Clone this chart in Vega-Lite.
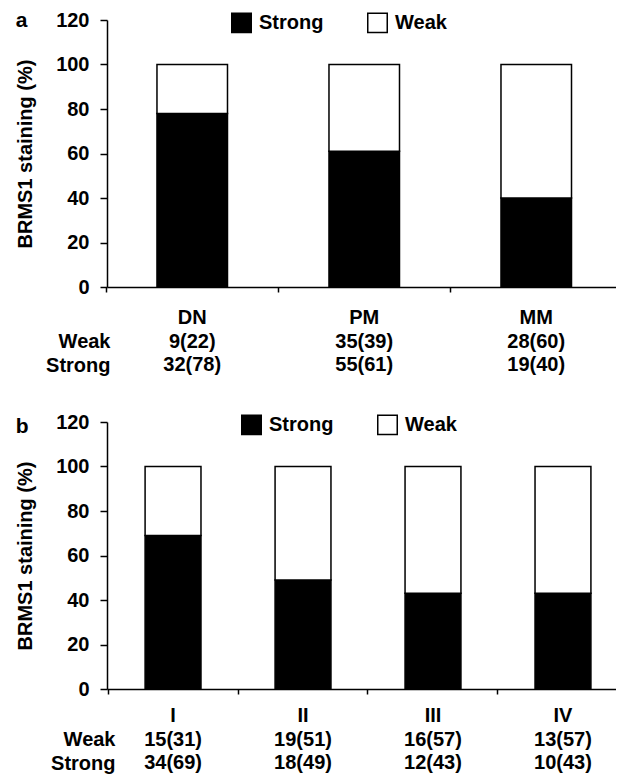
{
  "$schema": "https://vega.github.io/schema/vega-lite/v6.json",
  "padding": {"left": 15, "top": 10, "right": 0, "bottom": 0},
  "autosize": {"type": "pad"},
  "background": "white",
  "config": {
    "font": "Liberation Sans",
    "view": {"stroke": null},
    "axis": {
      "labelFont": "Liberation Sans", "labelFontWeight": "bold", "labelFontSize": 20, "labelColor": "black",
      "titleFont": "Liberation Sans", "titleFontSize": 20, "titleFontWeight": "bold", "titleColor": "black",
      "domainColor": "black", "tickColor": "black", "grid": false, "domainWidth": 1.5, "tickWidth": 1.5
    },
    "legend": {"labelFont": "Liberation Sans", "labelFontSize": 20, "labelFontWeight": "bold", "labelColor": "black"},
    "title": {"font": "Liberation Sans", "fontSize": 21, "fontWeight": "bold", "color": "black"}
  },
  "datasets": {
    "barsA": [
      {"cat": "DN", "type": "Strong", "pct": 78}, {"cat": "DN", "type": "Weak", "pct": 22},
      {"cat": "PM", "type": "Strong", "pct": 61}, {"cat": "PM", "type": "Weak", "pct": 39},
      {"cat": "MM", "type": "Strong", "pct": 40}, {"cat": "MM", "type": "Weak", "pct": 60}
    ],
    "tabA": [
      {"cat": "DN", "row": "cat", "txt": "DN"}, {"cat": "DN", "row": "Weak", "txt": "9(22)"}, {"cat": "DN", "row": "Strong", "txt": "32(78)"},
      {"cat": "PM", "row": "cat", "txt": "PM"}, {"cat": "PM", "row": "Weak", "txt": "35(39)"}, {"cat": "PM", "row": "Strong", "txt": "55(61)"},
      {"cat": "MM", "row": "cat", "txt": "MM"}, {"cat": "MM", "row": "Weak", "txt": "28(60)"}, {"cat": "MM", "row": "Strong", "txt": "19(40)"}
    ],
    "barsB": [
      {"cat": "I", "type": "Strong", "pct": 69}, {"cat": "I", "type": "Weak", "pct": 31},
      {"cat": "II", "type": "Strong", "pct": 49}, {"cat": "II", "type": "Weak", "pct": 51},
      {"cat": "III", "type": "Strong", "pct": 43}, {"cat": "III", "type": "Weak", "pct": 57},
      {"cat": "IV", "type": "Strong", "pct": 43}, {"cat": "IV", "type": "Weak", "pct": 57}
    ],
    "tabB": [
      {"cat": "I", "row": "cat", "txt": "I"}, {"cat": "I", "row": "Weak", "txt": "15(31)"}, {"cat": "I", "row": "Strong", "txt": "34(69)"},
      {"cat": "II", "row": "cat", "txt": "II"}, {"cat": "II", "row": "Weak", "txt": "19(51)"}, {"cat": "II", "row": "Strong", "txt": "18(49)"},
      {"cat": "III", "row": "cat", "txt": "III"}, {"cat": "III", "row": "Weak", "txt": "16(57)"}, {"cat": "III", "row": "Strong", "txt": "12(43)"},
      {"cat": "IV", "row": "cat", "txt": "IV"}, {"cat": "IV", "row": "Weak", "txt": "13(57)"}, {"cat": "IV", "row": "Strong", "txt": "10(43)"}
    ]
  },
  "spacing": 35,
  "resolve": {"scale": {"x": "independent", "y": "independent", "color": "independent"}, "legend": {"color": "independent"}},
  "vconcat": [
    {
      "spacing": 9,
      "resolve": {"scale": {"x": "independent", "y": "independent", "color": "independent"}, "legend": {"color": "independent"}},
      "vconcat": [
        {
          "width": 509, "height": 267,
          "title": {"text": "a", "anchor": "start", "frame": "bounds", "offset": -15, "baseline": "alphabetic", "dy": 23},
          "data": {"name": "barsA"},
          "mark": {"type": "bar", "stroke": "black", "strokeWidth": 1.5},
          "encoding": {
            "x": {"field": "cat", "type": "nominal", "sort": ["DN", "PM", "MM"],
              "scale": {"paddingInner": 0.59, "paddingOuter": 0.2746, "align": 0.529},
              "axis": {"title": null, "labels": false, "tickSize": 5, "bandPosition": -0.7195}},
            "y": {"field": "pct", "type": "quantitative", "stack": "zero",
              "scale": {"domain": [0, 120]},
              "axis": {"title": "BRMS1 staining (%)", "values": [0, 20, 40, 60, 80, 100, 120], "tickSize": 7, "labelPadding": 11, "titlePadding": 20}},
            "color": {"field": "type", "type": "nominal",
              "scale": {"domain": ["Strong", "Weak"], "range": ["black", "white"]},
              "legend": {"title": null, "orient": "none", "legendX": 124, "legendY": -8, "direction": "horizontal", "columns": 2, "columnPadding": 40,
                "symbolType": "square", "symbolSize": 380, "symbolStrokeColor": "black", "symbolStrokeWidth": 1.5, "labelOffset": 7, "padding": 0}},
            "order": {"field": "type", "sort": "ascending"}
          }
        },
        {
          "width": 509, "height": 71,
          "data": {"name": "tabA"},
          "mark": {"type": "text", "fontSize": 20, "fontWeight": "bold", "baseline": "middle", "color": "black", "font": "Liberation Sans"},
          "encoding": {
            "x": {"field": "cat", "type": "nominal", "sort": ["DN", "PM", "MM"],
              "scale": {"type": "band", "paddingInner": 0.59, "paddingOuter": 0.2746, "align": 0.529}, "axis": null},
            "y": {"field": "row", "type": "nominal", "sort": ["cat", "Weak", "Strong"],
              "scale": {"type": "point", "padding": 0.5},
              "axis": {"title": null, "domain": false, "ticks": false, "labelPadding": -3, "labelExpr": "datum.label == 'cat' ? '' : datum.label"}},
            "text": {"field": "txt"}
          }
        }
      ]
    },
    {
      "spacing": 5,
      "resolve": {"scale": {"x": "independent", "y": "independent", "color": "independent"}, "legend": {"color": "independent"}},
      "vconcat": [
        {
          "width": 509, "height": 267,
          "title": {"text": "b", "anchor": "start", "frame": "bounds", "offset": -20, "baseline": "alphabetic", "dy": 22},
          "data": {"name": "barsB"},
          "mark": {"type": "bar", "stroke": "black", "strokeWidth": 1.5},
          "encoding": {
            "x": {"field": "cat", "type": "nominal", "sort": ["I", "II", "III", "IV"],
              "scale": {"paddingInner": 0.57, "paddingOuter": 0.243, "align": 0.603},
              "axis": {"title": null, "labels": false, "tickSize": 5, "bandPosition": -0.663}},
            "y": {"field": "pct", "type": "quantitative", "stack": "zero",
              "scale": {"domain": [0, 120]},
              "axis": {"title": "BRMS1 staining (%)", "values": [0, 20, 40, 60, 80, 100, 120], "tickSize": 7, "labelPadding": 11, "titlePadding": 20}},
            "color": {"field": "type", "type": "nominal",
              "scale": {"domain": ["Strong", "Weak"], "range": ["black", "white"]},
              "legend": {"title": null, "orient": "none", "legendX": 134, "legendY": -8, "direction": "horizontal", "columns": 2, "columnPadding": 40,
                "symbolType": "square", "symbolSize": 380, "symbolStrokeColor": "black", "symbolStrokeWidth": 1.5, "labelOffset": 7, "padding": 0}},
            "order": {"field": "type", "sort": "ascending"}
          }
        },
        {
          "width": 509, "height": 71,
          "data": {"name": "tabB"},
          "mark": {"type": "text", "fontSize": 20, "fontWeight": "bold", "baseline": "middle", "color": "black", "font": "Liberation Sans"},
          "encoding": {
            "x": {"field": "cat", "type": "nominal", "sort": ["I", "II", "III", "IV"],
              "scale": {"type": "band", "paddingInner": 0.57, "paddingOuter": 0.243, "align": 0.603}, "axis": null},
            "y": {"field": "row", "type": "nominal", "sort": ["cat", "Weak", "Strong"],
              "scale": {"type": "point", "padding": 0.5},
              "axis": {"title": null, "domain": false, "ticks": false, "labelPadding": -8, "labelExpr": "datum.label == 'cat' ? '' : datum.label"}},
            "text": {"field": "txt"}
          }
        }
      ]
    }
  ]
}
